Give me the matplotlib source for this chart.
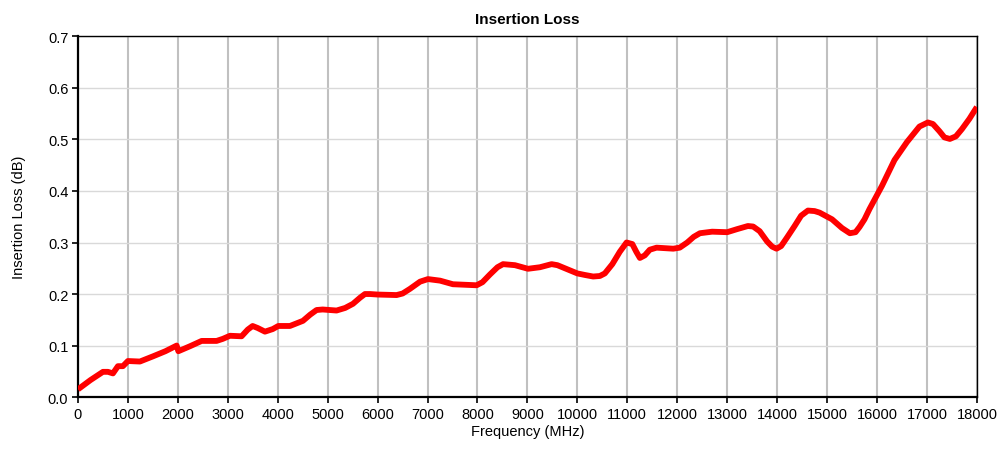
import matplotlib
matplotlib.use("Agg")
import matplotlib.pyplot as plt

plt.rcParams['font.family'] = ['Liberation Sans', 'DejaVu Sans']

freq_mhz = [0, 250, 500, 600, 700, 800, 900, 1000, 1240, 1500, 1750, 1976, 2010, 2250, 2476, 2776,
            2900, 3043, 3276, 3400, 3497, 3600, 3744, 3900, 4011, 4244, 4505, 4650, 4778, 4900,
            5178, 5350, 5506, 5650, 5746, 5850, 6000, 6380, 6500,
            6647, 6850, 7008, 7250, 7508, 7982, 8100, 8250, 8400, 8512, 8750, 9011, 9250, 9484,
            9600, 9750, 10000, 10150, 10316, 10450, 10550, 10700, 10850, 10985, 11100, 11180,
            11252, 11350, 11450, 11586, 11920, 12050, 12200, 12330,
            12454, 12700, 13000, 13200, 13415, 13520, 13650, 13800, 13900, 13988, 14080, 14200,
            14350, 14480, 14617, 14750, 14850, 15100, 15300, 15457, 15570, 15650, 15750, 15850,
            16100, 16350, 16600, 16850, 17019, 17120,
            17250, 17350, 17459, 17580, 17700, 17850, 18000]
loss_db = [0.015, 0.033, 0.049, 0.049, 0.046, 0.06, 0.06, 0.07, 0.069, 0.079, 0.089, 0.100, 0.089,
           0.099, 0.109, 0.109, 0.113, 0.119, 0.118, 0.131, 0.138, 0.134, 0.127, 0.132, 0.138,
           0.138, 0.148, 0.160, 0.169, 0.170,
           0.168, 0.173, 0.181, 0.193, 0.200, 0.200, 0.199, 0.198, 0.201, 0.210, 0.224, 0.229,
           0.226, 0.219, 0.217, 0.223, 0.238, 0.252, 0.258, 0.256, 0.249, 0.252, 0.258, 0.256,
           0.250, 0.240, 0.237, 0.234, 0.235, 0.240, 0.258, 0.282, 0.300, 0.297, 0.282, 0.270,
           0.275, 0.286, 0.290, 0.288, 0.290, 0.300, 0.311,
           0.318, 0.321, 0.320, 0.326, 0.332, 0.331, 0.322, 0.302, 0.292, 0.288, 0.293, 0.310,
           0.332, 0.352, 0.362, 0.361, 0.358, 0.345, 0.328, 0.318, 0.320, 0.330, 0.345, 0.365,
           0.410, 0.460, 0.495, 0.525, 0.533, 0.530,
           0.516, 0.504, 0.501, 0.506, 0.520, 0.540, 0.563]

fig = plt.figure(figsize=(10.01, 4.56), dpi=100)
ax = fig.add_axes([0.0779, 0.127, 0.898, 0.791])
ax.plot(freq_mhz, loss_db, color='#ff0000', linewidth=4.2, solid_joinstyle='round',
        solid_capstyle='butt', zorder=3)
ax.set_xlim(0, 18000)
ax.set_ylim(0, 0.7)
ax.set_xticks(range(0, 18001, 1000))
ax.set_yticks([i / 10 for i in range(8)])
ax.set_yticklabels([f"{i/10:.1f}" for i in range(8)])
ax.grid(True, axis='x', color='#c0c0c0', linewidth=1.5)
ax.grid(True, axis='y', color='#d9d9d9', linewidth=1.0)
ax.set_axisbelow(True)
for s in ax.spines.values():
    s.set_color('black')
    s.set_linewidth(1.0)
ax.spines['left'].set_linewidth(1.6)
ax.spines['bottom'].set_linewidth(1.6)
ax.tick_params(axis='both', direction='out', length=4, width=1.2, labelsize=10.5, pad=3)
ax.set_xlabel('Frequency (MHz)', fontsize=10.5, labelpad=2)
ax.set_ylabel('Insertion Loss (dB)', fontsize=10.5, labelpad=16)
ax.set_title('Insertion Loss', fontsize=11, fontweight='bold', pad=10)
fig.savefig('out.png', dpi=100)
